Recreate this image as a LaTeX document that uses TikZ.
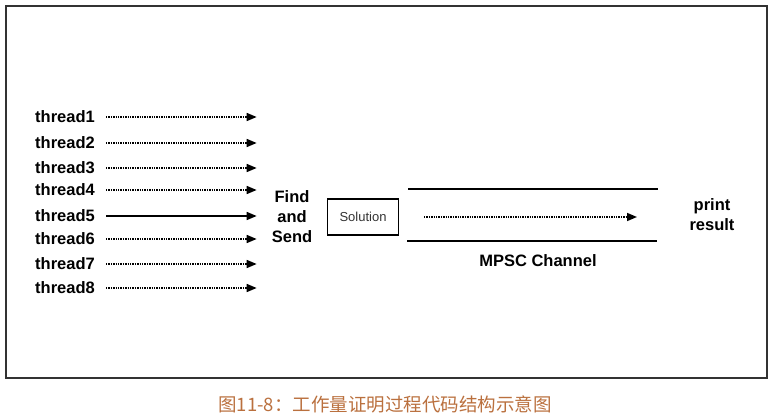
\documentclass[tikz,border=0pt]{standalone}
\usepackage{fontspec}
\setmainfont{Liberation Sans}
\newfontfamily\cjk{Noto Sans CJK SC}
\usepackage{tikz}
\usetikzlibrary{arrows.meta}
\usetikzlibrary{positioning}
\usepackage{xcolor}

\definecolor{framegray}{RGB}{50,50,50}
\definecolor{captionbrown}{RGB}{186,112,62}

% layouts used by the picture below
\tikzset{
 bigtext/.style={font=\bfseries\fontsize{16.5}{20}\selectfont, inner sep=0pt},
 threadlabel/.style={bigtext, anchor=west},
 flow/.style={->, line width=1.6pt, shorten <=11pt, shorten >=15pt},
 dotflow/.style={flow, dash pattern=on 1.3pt off 1.1pt},
 solutionbox/.style={draw, line width=1.9pt, minimum width=71pt, minimum height=36pt,
  inner sep=0pt, font=\fontsize{13}{14}\selectfont, text=black!80},
 pipe/.style={line width=1.9pt}
}

\begin{document}
\begin{tikzpicture}[x=1pt,y=-1pt,>={Triangle[length=10pt,width=8pt]}]

 % page size and outer frame
 \useasboundingbox (0,0) rectangle (774,417);
 \draw[line width=2pt, framegray] (6,6) rectangle (767,378);

 % the eight threads, one label each
 \node[threadlabel] (Thread1) at (35,117) {thread1};
 \node[threadlabel] (Thread2) at (35,143) {thread2};
 \node[threadlabel] (Thread3) at (35,168) {thread3};
 \node[threadlabel] (Thread4) at (35,190) {thread4};
 \node[threadlabel] (Thread5) at (35,216) {thread5};
 \node[threadlabel] (Thread6) at (35,239) {thread6};
 \node[threadlabel] (Thread7) at (35,264) {thread7};
 \node[threadlabel] (Thread8) at (35,288) {thread8};

 % where the threads point to
 \node[bigtext, align=center] (FindSend) at (292,217) {Find\\and\\Send};

 % the found solution and the channel it goes through
 \node[solutionbox] (Solution) at (363,217) {Solution};
 \coordinate (ChanTopIn) at (408,189);
 \coordinate (ChanTopOut) at (658,189);
 \coordinate (ChanBotIn) at (407,241);
 \coordinate (ChanBotOut) at (657,241);
 \coordinate (ChanIn) at (424,217);
 \coordinate (ChanOut) at (637,217);
 \node[bigtext] (ChannelLabel) at (538,261) {MPSC Channel};

 % receiver side
 \node[bigtext, align=center] (PrintResult) at (712,215) {print\\result};

 % caption below the frame
 \node[font=\cjk\fontsize{18.5}{20}\selectfont, text=captionbrown, inner sep=0pt]
  (Caption) at (385,404) {图11-8：工作量证明过程代码结构示意图};

 % draw the thread arrows, only thread5 is solid
 \draw[dotflow] (Thread1.east) -- (Thread1.east -| FindSend.west);
 \draw[dotflow] (Thread2.east) -- (Thread2.east -| FindSend.west);
 \draw[dotflow] (Thread3.east) -- (Thread3.east -| FindSend.west);
 \draw[dotflow] (Thread4.east) -- (Thread4.east -| FindSend.west);
 \draw[flow] (Thread5.east) -- (Thread5.east -| FindSend.west);
 \draw[dotflow] (Thread6.east) -- (Thread6.east -| FindSend.west);
 \draw[dotflow] (Thread7.east) -- (Thread7.east -| FindSend.west);
 \draw[dotflow] (Thread8.east) -- (Thread8.east -| FindSend.west);

 % channel walls and the message inside
 \draw[pipe] (ChanTopIn) -- (ChanTopOut);
 \draw[pipe] (ChanBotIn) -- (ChanBotOut);
 \draw[dotflow, shorten <=0pt, shorten >=0pt] (ChanIn) -- (ChanOut);

\end{tikzpicture}
\end{document}
